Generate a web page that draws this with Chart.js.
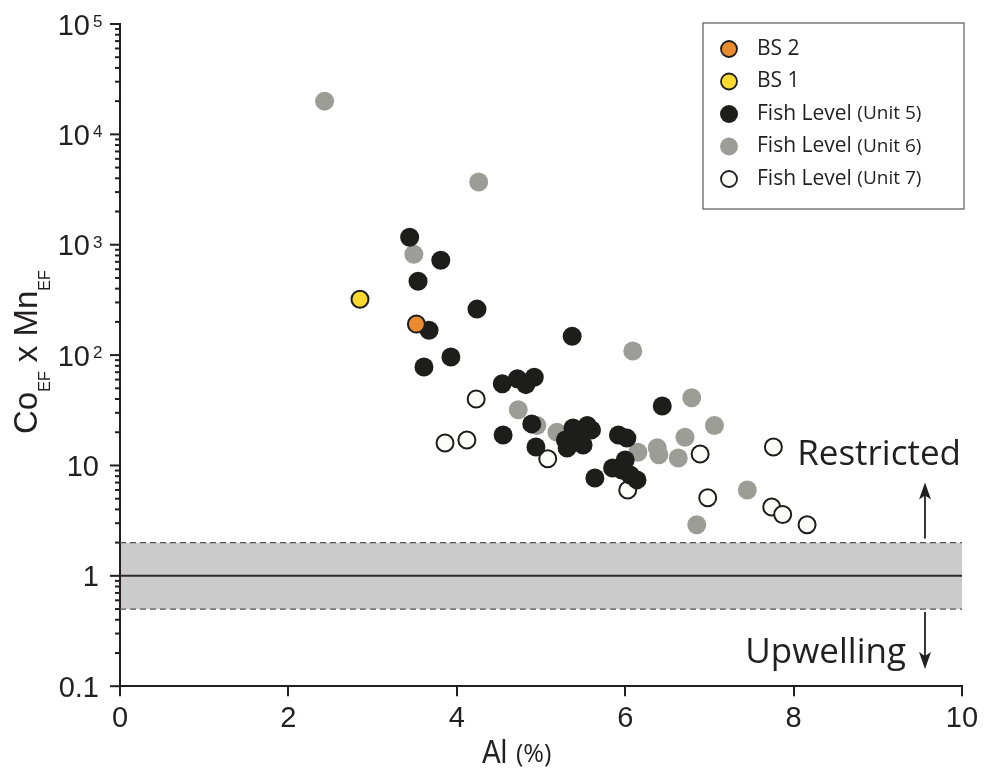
<!DOCTYPE html>
<html>
<head>
<meta charset="utf-8">
<title>CoEF x MnEF vs Al</title>
<script src="https://cdn.jsdelivr.net/npm/chart.js@4"></script>
<style>
  body { margin: 0; background: #fff; }
  #wrap { width: 987px; height: 776px; }
</style>
</head>
<body>
<div id="wrap"><canvas id="chart" width="987" height="776"></canvas></div>
<script>
// Al (%) against CoEF x MnEF, one pair of arrays per sample group
const bs2Al = [3.52];
const bs2CoMn = [191];

const bs1Al = [2.85];
const bs1CoMn = [321];

const unit5Al = [3.44, 3.81, 3.54, 4.24, 3.67, 3.93, 3.61, 5.37, 4.54, 4.72, 4.82, 4.92, 6.44, 4.89, 4.55, 4.94,
  5.29, 5.38, 5.55, 5.60, 5.31, 5.50, 5.46, 5.92, 6.02, 5.64, 5.85, 6.00, 5.96, 6.14, 6.06];
const unit5CoMn = [1170, 724, 467, 261, 168, 96, 78, 148, 55, 61, 54, 63, 34.6, 23.8, 18.9, 14.7,
  17, 21.9, 23, 21, 14.4, 15.3, 18, 18.9, 17.7, 7.7, 9.5, 11.2, 9.1, 7.4, 8.2];

const unit6Al = [2.43, 4.26, 3.49, 6.09, 6.79, 7.06, 6.71, 4.73, 5.19, 6.15, 6.38, 6.40, 6.63, 7.45, 6.85, 4.95];
const unit6CoMn = [20000, 3700, 820, 109, 41, 23, 18, 32, 20, 13.2, 14.5, 12.5, 11.7, 6.0, 2.9, 23];

const unit7Al = [3.86, 4.12, 4.23, 5.08, 6.03, 6.89, 7.76, 6.98, 7.74, 7.87, 8.16];
const unit7CoMn = [16, 17, 40, 11.5, 6.0, 12.7, 14.7, 5.1, 4.2, 3.6, 2.9];

const xTicks = [0, 2, 4, 6, 8, 10];
const yDecades = [0.1, 1, 10, 100, 1000, 10000, 100000];
const yLabels = ['0.1', '1', '10', '10^2', '10^3', '10^4', '10^5'];
const bandLow = 0.5;
const bandHigh = 2;
const baseline = 1;

const INK = '#231f20';
const TICK_FONT = '29px "Liberation Sans", Arial, sans-serif';

function toPoints(xs, ys) {
  return xs.map((x, i) => ({ x: x, y: ys[i] }));
}

function makeSet(label, xs, ys, fill, border) {
  return {
    label: label,
    data: toPoints(xs, ys),
    backgroundColor: fill,
    borderColor: border || fill,
    borderWidth: border ? 2 : 0,
    pointRadius: border ? 8.5 : 9.5,
    pointHoverRadius: border ? 8.5 : 9.5
  };
}

// gray band between 0.5 and 2 with the line at 1
const bandPlugin = {
  id: 'band',
  beforeDatasetsDraw(chart) {
    const ctx = chart.ctx;
    const area = chart.chartArea;
    const y = chart.scales.y;
    const top = y.getPixelForValue(bandHigh);
    const bot = y.getPixelForValue(bandLow);
    const mid = y.getPixelForValue(baseline);
    ctx.save();
    ctx.fillStyle = '#cbcbcb';
    ctx.fillRect(area.left + 1, top, area.right - area.left - 1, bot - top);
    ctx.strokeStyle = '#555';
    ctx.lineWidth = 1.2;
    ctx.setLineDash([6, 4]);
    [top, bot].forEach(py => {
      ctx.beginPath();
      ctx.moveTo(area.left, py);
      ctx.lineTo(area.right, py);
      ctx.stroke();
    });
    ctx.setLineDash([]);
    ctx.strokeStyle = '#2b2b2b';
    ctx.lineWidth = 2;
    ctx.beginPath();
    ctx.moveTo(area.left, mid);
    ctx.lineTo(area.right, mid);
    ctx.stroke();
    ctx.restore();
  }
};

function arrow(ctx, x, y0, y1) {
  const dir = y1 < y0 ? -1 : 1;
  ctx.beginPath();
  ctx.moveTo(x, y0);
  ctx.lineTo(x, y1 - dir * 12);
  ctx.stroke();
  ctx.beginPath();
  ctx.moveTo(x, y1);
  ctx.lineTo(x - 6, y1 - dir * 17);
  ctx.lineTo(x, y1 - dir * 13);
  ctx.lineTo(x + 6, y1 - dir * 17);
  ctx.closePath();
  ctx.fill();
}

// y ticks, labels, axis titles, legend and the two notes
const decorPlugin = {
  id: 'decor',
  afterDraw(chart) {
    const ctx = chart.ctx;
    const area = chart.chartArea;
    const y = chart.scales.y;
    ctx.save();
    ctx.strokeStyle = INK;
    ctx.fillStyle = INK;
    ctx.lineWidth = 2;

    // log ticks: long at decades, short in between
    yDecades.forEach((d, i) => {
      const py = y.getPixelForValue(d);
      ctx.beginPath();
      ctx.moveTo(area.left - 10, py);
      ctx.lineTo(area.left, py);
      ctx.stroke();
      if (i < yDecades.length - 1) {
        for (let m = 2; m <= 9; m++) {
          const my = y.getPixelForValue(d * m);
          ctx.beginPath();
          ctx.moveTo(area.left - 5, my);
          ctx.lineTo(area.left, my);
          ctx.stroke();
        }
      }
      const lab = yLabels[i];
      ctx.textBaseline = 'alphabetic';
      if (lab.indexOf('^') > 0) {
        const parts = lab.split('^');
        ctx.font = TICK_FONT;
        ctx.textAlign = 'right';
        ctx.fillText(parts[0], area.left - 30, py + 10.5);
        ctx.font = '17px "Liberation Sans", Arial, sans-serif';
        ctx.textAlign = 'left';
        ctx.fillText(parts[1], area.left - 27, py + 3);
      } else {
        ctx.font = TICK_FONT;
        ctx.textAlign = 'right';
        ctx.fillText(lab, area.left - 21, py + 10.5);
      }
    });

    // y title: Co_EF x Mn_EF, rotated
    const big = '33px "Liberation Sans", Arial, sans-serif';
    const small = '16px "Liberation Sans", Arial, sans-serif';
    const pieces = [['Co', big, 0], ['EF', small, 12.5], [' x ', big, 0], ['Mn', big, 0], ['EF', small, 12.5]];
    let total = 0;
    pieces.forEach(p => { ctx.font = p[1]; p.push(ctx.measureText(p[0]).width); total += p[3]; });
    ctx.save();
    ctx.translate(37, (area.top + area.bottom) / 2 - 3);
    ctx.rotate(-Math.PI / 2);
    ctx.textAlign = 'left';
    let cx = -total / 2;
    pieces.forEach(p => {
      ctx.font = p[1];
      ctx.fillText(p[0], cx, p[2]);
      cx += p[3];
    });
    ctx.restore();

    // x title: Al (%)
    ctx.save();
    ctx.textAlign = 'left';
    ctx.translate(482, 763);
    ctx.scale(0.85, 1);
    ctx.font = '33px "Liberation Sans", Arial, sans-serif';
    ctx.fillText('Al', 0, 0);
    ctx.restore();
    ctx.font = '25px "Open Sans", sans-serif';
    ctx.textAlign = 'left';
    ctx.fillText('(%)', 516, 762);

    // notes on either side of the band
    const bandTop = y.getPixelForValue(bandHigh);
    const bandBot = y.getPixelForValue(bandLow);
    const ax = area.right - 37;
    ctx.lineWidth = 1.8;
    arrow(ctx, ax, bandTop - 4, bandTop - 60);
    arrow(ctx, ax, bandBot + 3, bandBot + 60);
    ctx.font = '35px "Open Sans", sans-serif';
    ctx.textAlign = 'right';
    ctx.fillText('Restricted', area.right - 1, y.getPixelForValue(10));
    ctx.fillText('Upwelling', ax - 19, bandBot + 54);

    // legend box
    const lx = 703, ly = 23, lw = 261, lh = 186;
    ctx.fillStyle = '#fff';
    ctx.fillRect(lx, ly, lw, lh);
    ctx.strokeStyle = '#5a5a5a';
    ctx.lineWidth = 1.2;
    ctx.strokeRect(lx, ly, lw, lh);
    chart.data.datasets.forEach((ds, i) => {
      const ry = ly + 26 + i * 32.5;
      ctx.beginPath();
      ctx.arc(lx + 26, ry, ds.borderWidth ? 8 : 9, 0, Math.PI * 2);
      ctx.fillStyle = ds.backgroundColor;
      ctx.fill();
      if (ds.borderWidth) {
        ctx.lineWidth = 1.8;
        ctx.strokeStyle = ds.borderColor;
        ctx.stroke();
      }
      ctx.fillStyle = INK;
      ctx.textAlign = 'left';
      ctx.textBaseline = 'middle';
      const cut = ds.label.indexOf(' (');
      const main = cut > 0 ? ds.label.slice(0, cut) : ds.label;
      ctx.font = '21px "Open Sans", sans-serif';
      ctx.fillText(main, lx + 54, ry);
      if (cut > 0) {
        const w = ctx.measureText(main + ' ').width;
        ctx.font = '19px "Open Sans", sans-serif';
        ctx.fillText(ds.label.slice(cut + 1), lx + 54 + w, ry);
      }
    });
    ctx.restore();
  }
};

const ctx = document.getElementById('chart').getContext('2d');
const myChart = new Chart(ctx, {
  type: 'scatter',
  data: {
    datasets: [
      makeSet('BS 2', bs2Al, bs2CoMn, '#ea8b2f', '#1d1d1b'),
      makeSet('BS 1', bs1Al, bs1CoMn, '#fcd92e', '#1d1d1b'),
      makeSet('Fish Level (Unit 5)', unit5Al, unit5CoMn, '#1d1d1b'),
      makeSet('Fish Level (Unit 6)', unit6Al, unit6CoMn, '#9d9d98'),
      makeSet('Fish Level (Unit 7)', unit7Al, unit7CoMn, '#fbfbf9', '#1d1d1b')
    ]
  },
  options: {
    responsive: false,
    animation: false,
    layout: { padding: { left: 120, right: 25, top: 24, bottom: 35 } },
    plugins: { legend: { display: false }, tooltip: { enabled: false } },
    scales: {
      x: {
        type: 'linear',
        min: 0,
        max: 10,
        afterBuildTicks: axis => { axis.ticks = xTicks.map(v => ({ value: v })); },
        grid: { display: true, drawOnChartArea: false, drawTicks: true, tickLength: 10, color: INK, lineWidth: 2 },
        border: { display: true, color: INK, width: 2 },
        ticks: { color: INK, padding: 5, font: { family: '"Liberation Sans", Arial, sans-serif', size: 29 }, maxRotation: 0 }
      },
      y: {
        type: 'logarithmic',
        min: 0.1,
        max: 100000,
        grid: { display: false, drawTicks: false },
        border: { display: true, color: INK, width: 2 },
        ticks: { display: false }
      }
    }
  },
  plugins: [bandPlugin, decorPlugin]
});
</script>
</body>
</html>
